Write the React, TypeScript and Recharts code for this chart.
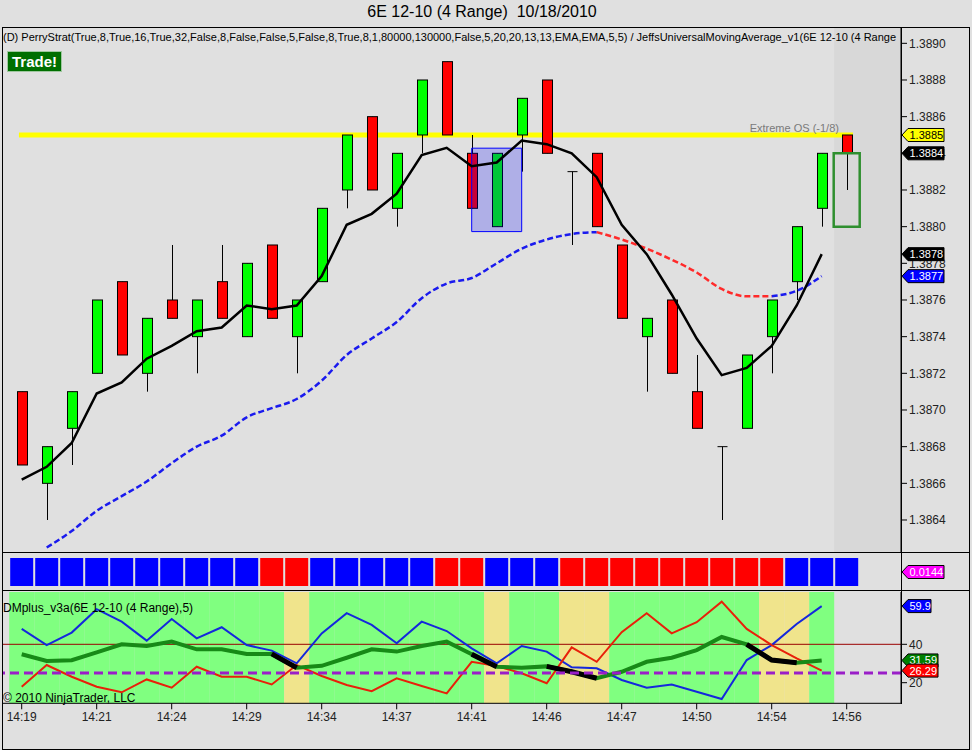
import React from "react";
import { ComposedChart, Bar, Line, XAxis, YAxis, ReferenceLine, ReferenceArea, Cell } from "recharts";

const FONT = "Arial, 'Liberation Sans', sans-serif";

// 34 range bars (4 ticks)
const opens = [1.3871, 1.3866, 1.3869, 1.3872, 1.3877, 1.3872, 1.3876, 1.3874, 1.3877, 1.3874, 1.3879, 1.3874, 1.3877, 1.3882, 1.3886, 1.3881, 1.3885, 1.3889, 1.3884, 1.388, 1.3885, 1.3888, 1.3883, 1.3884, 1.3879, 1.3874, 1.3876, 1.3871, 1.3868, 1.3869, 1.3874, 1.3877, 1.3881, 1.3885];
const highs = [1.3871, 1.3868, 1.3871, 1.3876, 1.3877, 1.3875, 1.3879, 1.3876, 1.3879, 1.3878, 1.3879, 1.3876, 1.3881, 1.3885, 1.3886, 1.3884, 1.3888, 1.3889, 1.3885, 1.3884, 1.3887, 1.3888, 1.3883, 1.3884, 1.3879, 1.3875, 1.3876, 1.3873, 1.3868, 1.3873, 1.3876, 1.388, 1.3884, 1.3885];
const lows = [1.3867, 1.3864, 1.3867, 1.3872, 1.3873, 1.3871, 1.3875, 1.3872, 1.3875, 1.3874, 1.3875, 1.3872, 1.3877, 1.3881, 1.3882, 1.388, 1.3884, 1.3885, 1.3881, 1.388, 1.3883, 1.3884, 1.3879, 1.388, 1.3875, 1.3871, 1.3872, 1.3869, 1.3864, 1.3869, 1.3872, 1.3876, 1.388, 1.3882];
const closes = [1.3867, 1.3868, 1.3871, 1.3876, 1.3873, 1.3875, 1.3875, 1.3876, 1.3875, 1.3878, 1.3875, 1.3876, 1.3881, 1.3885, 1.3882, 1.3884, 1.3888, 1.3885, 1.3881, 1.3884, 1.3887, 1.3884, 1.3883, 1.388, 1.3875, 1.3875, 1.3872, 1.3869, 1.3868, 1.3873, 1.3876, 1.388, 1.3884, 1.3884];

// JeffsUniversalMovingAverage (black) and slow average (dashed)
const fastMA = [1.38662, 1.38669, 1.38682, 1.38709, 1.38715, 1.38728, 1.38735, 1.38743, 1.38745, 1.38757, 1.38755, 1.38757, 1.38773, 1.38801, 1.38807, 1.38818, 1.38839, 1.38843, 1.38833, 1.38835, 1.38847, 1.38845, 1.3884, 1.38827, 1.38801, 1.38785, 1.38763, 1.38739, 1.38719, 1.38723, 1.38735, 1.38757, 1.38785, null];
const slowMA = [null, 1.38625, 1.38634, 1.38645, 1.38653, 1.38661, 1.38671, 1.3868, 1.38686, 1.38696, 1.38701, 1.38706, 1.38716, 1.3873, 1.38739, 1.38748, 1.38761, 1.38769, 1.38772, 1.3878, 1.38788, 1.38793, 1.38796, 1.38797, 1.38793, 1.38788, 1.38782, 1.38775, 1.38766, 1.38762, 1.38762, 1.38765, 1.38773, null];
const slowRedFrom = 23;
const slowRedTo = 30;

const priceTicks = [1.3864, 1.3866, 1.3868, 1.387, 1.3872, 1.3874, 1.3876, 1.3878, 1.388, 1.3882, 1.3884, 1.3886, 1.3888, 1.389];
const timeTickIdx = [0, 3, 6, 9, 12, 15, 18, 21, 24, 27, 30, 33];
const timeLabels = ["14:19", "14:21", "14:24", "14:29", "14:34", "14:37", "14:41", "14:46", "14:47", "14:50", "14:54", "14:56"];

// paint bar panel: B = blue, R = red
const paintBars = ["B", "B", "B", "B", "B", "B", "B", "B", "B", "B", "R", "R", "B", "B", "B", "B", "B", "R", "R", "B", "B", "B", "R", "R", "R", "R", "R", "R", "R", "R", "R", "B", "B", "B"];

// DMplus panel
const dmZones = ["G", "G", "G", "G", "G", "G", "G", "G", "G", "G", "G", "Y", "G", "G", "G", "G", "G", "G", "G", "Y", "G", "G", "Y", "Y", "G", "G", "G", "G", "G", "G", "Y", "Y", "G", ""];
const diPlus = [48.0, 39.6, 46.1, 58.3, 51.8, 41.9, 53.2, 43.1, 48.9, 39.6, 36.7, 30.1, 45.7, 56.2, 50.1, 40.5, 51.8, 46.9, 37.9, 30.1, 39.1, 36.2, 28.0, 27.5, 21.4, 17.4, 19.1, 15.3, 11.5, 31.8, 39.6, 50.6, 59.9, null];
const diMinus = [17.9, 29.2, 23.1, 17.9, 15.0, 21.7, 17.4, 28.3, 23.1, 23.1, 19.1, 29.2, 23.5, 18.8, 15.6, 22.3, 18.3, 14.4, 30.9, 28.7, 24.9, 19.7, 38.4, 30.9, 46.3, 56.2, 45.7, 51.5, 62.2, 48.0, 39.6, 32.7, 26.29, null];
const adx = [34.8, 31.3, 31.7, 35.8, 40.0, 39.1, 41.4, 37.4, 37.4, 35.0, 35.0, 27.8, 28.8, 33.0, 37.4, 36.2, 39.1, 41.4, 34.8, 28.3, 27.8, 28.5, 25.7, 22.3, 25.7, 30.9, 33.0, 37.0, 43.8, 40.0, 31.8, 30.4, 31.59, null];
const adxBlackIdx = [10, 11, 18, 19, 21, 22, 23, 29, 30, 31];
const dmLevel = 40;
const dmSignal = 25;

const PRICE_DOMAIN = [1.38622, 1.389089];
const DM_DOMAIN = [9.27, 67.24];
const NUM_DOMAIN = [-0.788, 35.172];
const PAD = { left: 7.2, right: 41.8 };

const rows = opens.map((open, i) => ({
  i,
  open,
  high: highs[i],
  low: lows[i],
  close: closes[i],
  range: [lows[i], highs[i]],
  fast: fastMA[i],
  slowBlue: i > slowRedFrom && i < slowRedTo ? null : slowMA[i],
  slowRed: i >= slowRedFrom && i <= slowRedTo ? slowMA[i] : null,
  paint: 1,
  bg: dmZones[i] ? DM_DOMAIN : null,
  diPlus: diPlus[i],
  diMinus: diMinus[i],
  adx: adx[i],
  adxBlack: adxBlackIdx.includes(i) ? adx[i] : null,
}));

function Candle(props: any) {
  const { x, y, width, height, payload } = props;
  if (!payload || !isFinite(y) || !isFinite(height)) return <g />;
  const cx = Math.round(x + width / 2) + 0.5;
  const { open, close, high, low } = payload;
  const py = (p: number) => y + ((high - p) / (high - low)) * height;
  const top = py(Math.max(open, close));
  const bot = py(Math.min(open, close));
  const fill = close > open ? "#00ff00" : "#ff0000";
  return (
    <g>
      <line x1={cx} x2={cx} y1={y} y2={y + height} stroke="#000" strokeWidth={1} />
      {open === close ? (
        <line x1={cx - 5} x2={cx + 5} y1={top} y2={top} stroke="#000" strokeWidth={1} />
      ) : (
        <rect x={cx - 5} y={top} width={10} height={bot - top} fill={fill} stroke="#000" strokeWidth={1} />
      )}
    </g>
  );
}

function Tag(props: any) {
  const { viewBox, text, bg, fg, w } = props;
  if (!viewBox) return <g />;
  const x0 = viewBox.x + viewBox.width;
  const yc = viewBox.y;
  const h = 6.5;
  return (
    <g>
      <path
        d={`M${x0 + 1},${yc} L${x0 + 7},${yc - h} L${x0 + w},${yc - h} L${x0 + w},${yc + h} L${x0 + 7},${yc + h} Z`}
        fill={bg}
        stroke="#000"
        strokeWidth={1}
      />
      <text x={x0 + 8.5} y={yc} dy="0.36em" fontSize={11} fill={fg} fontFamily={FONT}>
        {text}
      </text>
    </g>
  );
}

function ExtremeLabel(props: any) {
  const { viewBox } = props;
  if (!viewBox) return <g />;
  return (
    <text x={viewBox.x + viewBox.width - 14} y={viewBox.y - 3} textAnchor="end" fontSize={11} fill="#7a7a7a" fontFamily={FONT}>
      Extreme OS (-1/8)
    </text>
  );
}

function TimeTick(props: any) {
  const { x, y, payload } = props;
  const k = timeTickIdx.indexOf(payload.value);
  if (k < 0) return <g />;
  return (
    <g>
      <line x1={x} x2={x} y1={y - 8} y2={y - 2} stroke="#000" />
      <text x={x} y={y + 1} dy="0.71em" textAnchor="middle" fontSize={12} fill="#222" fontFamily={FONT}>
        {timeLabels[k]}
      </text>
    </g>
  );
}

const abs = (l: number, t: number, w: number, h: number, extra: any = {}) => ({
  position: "absolute" as const,
  left: l,
  top: t,
  width: w,
  height: h,
  ...extra,
});

// value tags sit on a transparent chart above each panel, so they cover the tick labels
function TagLayer({ height, margin, domain, tags }: any) {
  return (
    <ComposedChart width={972} height={height} data={rows} margin={margin}>
      <XAxis xAxisId="num" dataKey="i" type="number" hide domain={NUM_DOMAIN} allowDataOverflow />
      <YAxis hide domain={domain} allowDataOverflow />
      {tags.map((t: any) => (
        <ReferenceLine key={t.text} xAxisId="num" y={t.y} stroke="none" label={<Tag text={t.text} bg={t.bg} fg={t.fg} w={t.w} />} />
      ))}
    </ComposedChart>
  );
}

const priceTags = [
  { y: 1.3885, text: "1.3885", bg: "#ffff00", fg: "#000", w: 43 },
  { y: 1.3884, text: "1.3884", bg: "#000", fg: "#fff", w: 43 },
  { y: fastMA[32], text: "1.3878", bg: "#000", fg: "#fff", w: 43 },
  { y: slowMA[32], text: "1.3877", bg: "#0000ff", fg: "#fff", w: 43 },
];
const dmTags = [
  { y: diPlus[32], text: "59.9", bg: "#0000ff", fg: "#fff", w: 30 },
  { y: adx[32], text: "31.59", bg: "#008000", fg: "#fff", w: 37 },
  { y: diMinus[32], text: "26.29", bg: "#ff0000", fg: "#fff", w: 37 },
];

export default function App() {
  return (
    <div style={{ position: "relative", width: 972, height: 750, background: "#e0e0e0", fontFamily: FONT, overflow: "hidden" }}>
      <style>{`body{margin:0}`}</style>
      <div style={abs(0, 3, 964, 20, { textAlign: "center", fontSize: 16, whiteSpace: "pre", color: "#000" })}>
        {"6E 12-10 (4 Range)  10/18/2010"}
      </div>

      {/* price panel */}
      <div style={abs(0, 27, 972, 526)}>
        <ComposedChart width={972} height={526} data={rows} margin={{ top: 0, right: 0, bottom: 0, left: 2 }}>
          <XAxis dataKey="i" hide padding={PAD} />
          <XAxis xAxisId="num" dataKey="i" type="number" hide domain={NUM_DOMAIN} allowDataOverflow />
          <YAxis
            orientation="right"
            width={71}
            domain={PRICE_DOMAIN}
            allowDataOverflow
            ticks={priceTicks}
            tickFormatter={(v: number) => v.toFixed(4)}
            axisLine={{ stroke: "#000" }}
            tickLine={{ stroke: "#000" }}
            tickSize={6}
            tick={{ fill: "#222", fontSize: 12, fontFamily: FONT }}
          />
          <ReferenceArea xAxisId="num" x1={32.5} x2={NUM_DOMAIN[1]} fill="#000" fillOpacity={0.035} stroke="none" zIndex={-50} />
          <ReferenceLine
            xAxisId="num"
            segment={[{ x: -0.11, y: 1.3885 }, { x: 33.25, y: 1.3885 }]}
            stroke="#ffff00"
            strokeWidth={5}
            label={<ExtremeLabel />}
            zIndex={100}
          />
          <Bar dataKey="range" shape={(p: any) => <Candle {...p} />} isAnimationActive={false} zIndex={300} />
          <ReferenceArea xAxisId="num" x1={18} x2={20} y1={1.387973} y2={1.388428} fill="#0000ff" fillOpacity={0.22} stroke="#0000ff" strokeWidth={1} zIndex={350} />
          <ReferenceArea xAxisId="num" x1={32.48} x2={33.52} y1={1.388} y2={1.3884} fill="none" stroke="#2f8f2f" strokeWidth={2.5} zIndex={350} />
          <Line dataKey="slowBlue" type="monotone" stroke="#1a1aee" strokeWidth={2.5} strokeDasharray="6 3" dot={false} isAnimationActive={false} />
          <Line dataKey="slowRed" type="monotone" stroke="#ff2a2a" strokeWidth={2.5} strokeDasharray="6 3" dot={false} isAnimationActive={false} />
          <Line dataKey="fast" type="linear" stroke="#000" strokeWidth={2.5} dot={false} isAnimationActive={false} />
        </ComposedChart>
      </div>
      <div style={abs(0, 27, 972, 526)}>
        <TagLayer height={526} margin={{ top: 0, right: 71, bottom: 0, left: 2 }} domain={PRICE_DOMAIN} tags={priceTags} />
      </div>

      {/* paint bar panel */}
      <div style={abs(0, 553, 972, 38)}>
        <ComposedChart width={972} height={38} data={rows} margin={{ top: 5, right: 71, bottom: 5, left: 2 }}>
          <XAxis dataKey="i" hide padding={PAD} />
          <XAxis xAxisId="num" dataKey="i" type="number" hide domain={NUM_DOMAIN} allowDataOverflow />
          <YAxis hide domain={[0, 1]} />
          <Bar dataKey="paint" barSize={23} isAnimationActive={false}>
            {rows.map((r) => (
              <Cell key={r.i} fill={paintBars[r.i] === "B" ? "#0000ff" : "#ff0000"} />
            ))}
          </Bar>
          <ReferenceLine xAxisId="num" y={0.5} stroke="none" label={<Tag text="0.0144" bg="#ff00ff" fg="#fff" w={43} />} />
        </ComposedChart>
      </div>

      {/* DMplus panel */}
      <div style={abs(0, 591, 972, 158)}>
        <ComposedChart width={972} height={158} data={rows} margin={{ top: 1, right: 0, bottom: 0, left: 2 }} barCategoryGap={0}>
          <XAxis
            dataKey="i"
            height={45.7}
            padding={PAD}
            interval={0}
            axisLine={{ stroke: "#000" }}
            tickLine={false}
            tickSize={6}
            tickMargin={2}
            tick={(p: any) => <TimeTick {...p} />}
          />
          <XAxis xAxisId="num" dataKey="i" type="number" hide domain={NUM_DOMAIN} allowDataOverflow />
          <YAxis
            orientation="right"
            width={71}
            domain={DM_DOMAIN}
            allowDataOverflow
            ticks={[20, 40]}
            axisLine={{ stroke: "#000" }}
            tickLine={{ stroke: "#000" }}
            tickSize={6}
            tick={{ fill: "#222", fontSize: 12, fontFamily: FONT }}
          />
          <Bar dataKey="bg" isAnimationActive={false} zIndex={-20}>
            {rows.map((r) => (
              <Cell key={r.i} fill={dmZones[r.i] === "Y" ? "#f0e48c" : "#80ff80"} />
            ))}
          </Bar>
          <ReferenceLine xAxisId="num" y={dmLevel} stroke="#9a0000" strokeWidth={1} />
          <Line dataKey="diPlus" type="linear" stroke="#1428dc" strokeWidth={2} dot={false} isAnimationActive={false} />
          <Line dataKey="diMinus" type="linear" stroke="#e8200a" strokeWidth={2} dot={false} isAnimationActive={false} />
          <Line dataKey="adx" type="linear" stroke="#178a17" strokeWidth={4} dot={false} isAnimationActive={false} />
          <Line dataKey="adxBlack" type="linear" stroke="#000" strokeWidth={5} dot={false} isAnimationActive={false} />
          <ReferenceLine xAxisId="num" y={dmSignal} stroke="#9a1ec8" strokeWidth={3} strokeDasharray="9 5" />
        </ComposedChart>
      </div>
      <div style={abs(0, 591, 972, 158)}>
        <TagLayer height={158} margin={{ top: 1, right: 71, bottom: 45.7, left: 2 }} domain={DM_DOMAIN} tags={dmTags} />
      </div>

      {/* frame and separators */}
      <div style={abs(2, 27, 968, 723, { border: "1px solid #000", boxSizing: "border-box", pointerEvents: "none" })} />
      <div style={abs(2, 552, 968, 1, { background: "#000" })} />
      <div style={abs(2, 590, 968, 1, { background: "#000" })} />
      <div style={abs(901, 27, 1, 677, { background: "#000" })} />

      {/* overlay texts */}
      <div style={abs(3, 31, 897, 14, { overflow: "hidden", whiteSpace: "nowrap", fontSize: 11, color: "#000" })}>
        (D) PerryStrat(True,8,True,16,True,32,False,8,False,False,5,False,8,True,8,1,80000,130000,False,5,20,20,13,13,EMA,EMA,5,5) / JeffsUniversalMovingAverage_v1(6E 12-10 (4 Range
      </div>
      <div
        style={abs(7, 51, 55, 21, {
          background: "#006f00",
          border: "1px solid #9fc79f",
          boxSizing: "border-box",
          color: "#fff",
          fontWeight: "bold",
          fontSize: 15,
          lineHeight: "19px",
          textAlign: "center",
        })}
      >
        Trade!
      </div>
      <div style={abs(3, 601, 300, 14, { fontSize: 12, color: "#000", whiteSpace: "nowrap" })}>DMplus_v3a(6E 12-10 (4 Range),5)</div>
      <div style={abs(3, 691, 300, 14, { fontSize: 12, color: "#000", whiteSpace: "nowrap" })}>© 2010 NinjaTrader, LLC</div>
    </div>
  );
}
